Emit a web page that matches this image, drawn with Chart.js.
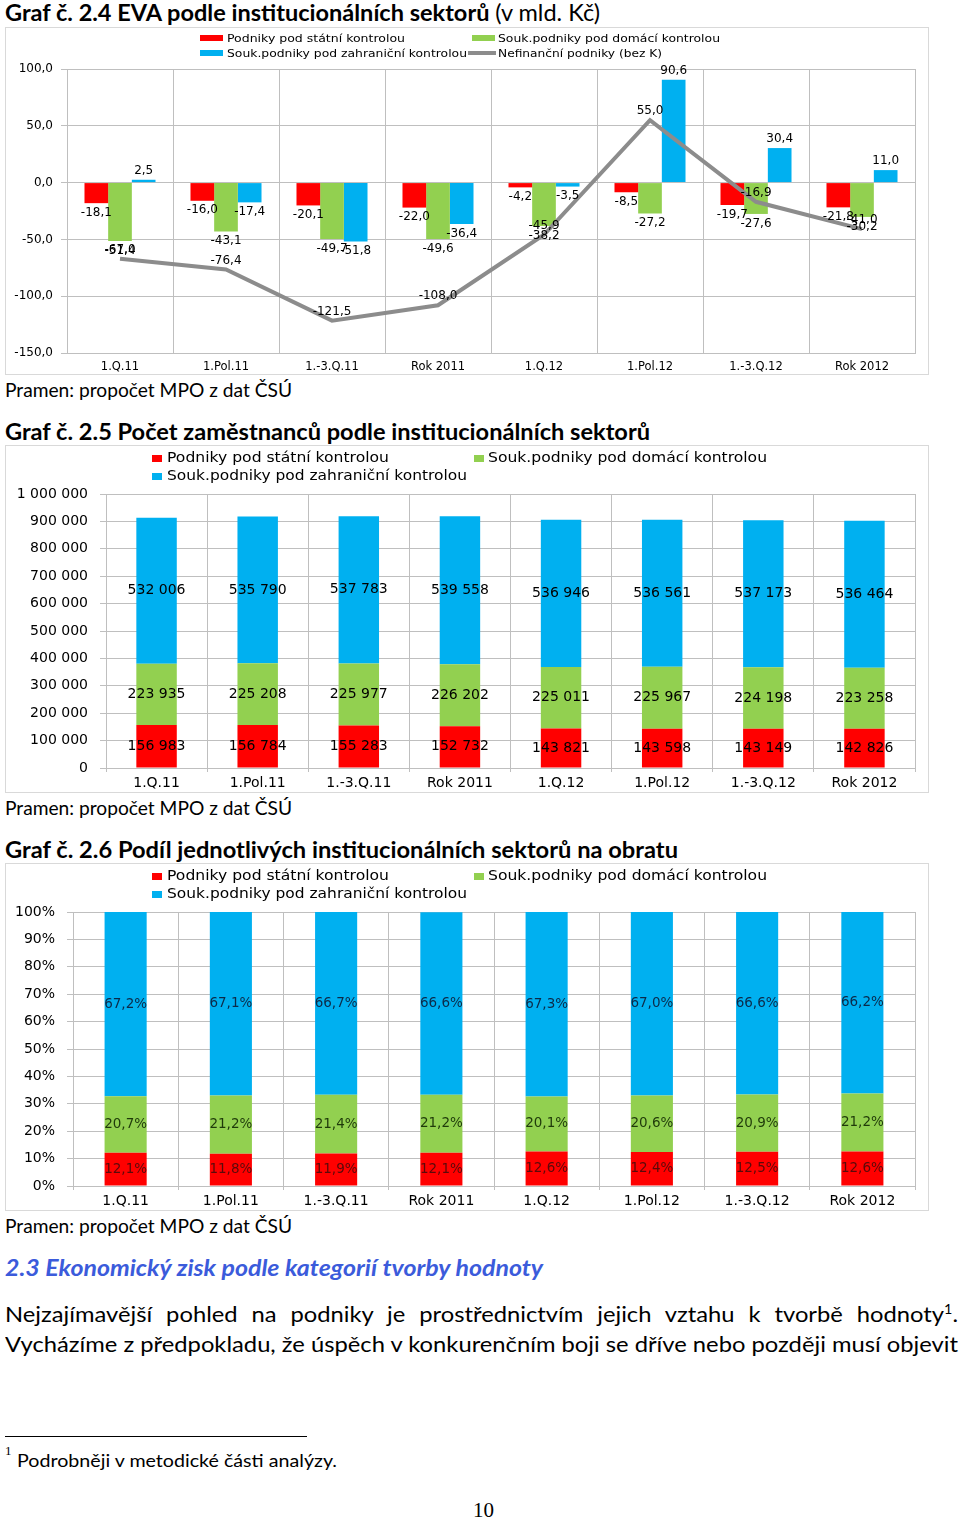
<!DOCTYPE html>
<html lang="cs">
<head>
<meta charset="utf-8">
<title>EVA, zaměstnanci a obrat podle sektorů</title>
<script src="https://cdn.jsdelivr.net/npm/chart.js@4.4.0/dist/chart.umd.min.js"></script>
<style>
  body{margin:0;background:#fff;}
  #stranka{position:relative;width:960px;height:1518px;overflow:hidden;font-family:Lato,"Open Sans",sans-serif;color:#000;background:#fff;}
  .t{position:absolute;white-space:nowrap;line-height:1;transform-origin:0 50%;}
  .box{position:absolute;left:5px;width:924px;height:348px;box-sizing:border-box;border:1px solid #d9d9d9;}
  .box canvas{position:absolute;left:0;top:0;}
  .leg{position:absolute;white-space:nowrap;line-height:1;transform-origin:0 50%;font-family:"DejaVu Sans",Verdana,sans-serif;}
  .mk{position:absolute;}
</style>
</head>
<body>
<div id="stranka">

  <div class="t" style="left:5px;top:0.5px;font-size:23px;font-weight:700" data-w="595">Graf č. 2.4 EVA podle institucionálních sektorů <span style="font-weight:400">(v mld. Kč)</span></div>
  <div class="box" style="top:27px"><canvas id="g1" width="922" height="346"></canvas></div>
  <div id="leg1"></div>
  <div class="t" style="left:5px;top:379px;font-size:20px" data-w="287">Pramen: propočet MPO z dat ČSÚ</div>

  <div class="t" style="left:5px;top:419.5px;font-size:23px;font-weight:700" data-w="645">Graf č. 2.5 Počet zaměstnanců podle institucionálních sektorů</div>
  <div class="box" style="top:445px"><canvas id="g2" width="922" height="346"></canvas></div>
  <div class="t" style="left:5px;top:797px;font-size:20px" data-w="287">Pramen: propočet MPO z dat ČSÚ</div>

  <div class="t" style="left:5px;top:837.5px;font-size:23px;font-weight:700" data-w="673">Graf č. 2.6 Podíl jednotlivých institucionálních sektorů na obratu</div>
  <div class="box" style="top:863px"><canvas id="g3" width="922" height="346"></canvas></div>
  <div class="t" style="left:5px;top:1215px;font-size:20px" data-w="287">Pramen: propočet MPO z dat ČSÚ</div>

  <div class="t" style="left:5px;top:1255.5px;font-size:23px;font-weight:700;font-style:italic;color:#3b5bdb" data-w="538">2.3 Ekonomický zisk podle kategorií tvorby hodnoty</div>

  <div id="r1" class="t" style="left:5px;top:1304px;font-size:21.5px;text-align:justify;text-align-last:justify;white-space:normal">Nejzajímavější pohled na podniky je prostřednictvím jejich vztahu k&nbsp;tvorbě hodnoty<sup style="font-size:13px;line-height:0">1</sup>.</div>
  <div id="r2" class="t" style="left:5px;top:1334px;font-size:21.5px">Vycházíme z předpokladu, že úspěch v konkurenčním boji se dříve nebo později musí objevit</div>

  <div style="position:absolute;left:5px;top:1436px;width:302px;height:1px;background:#000"></div>
  <div class="t" style="left:5px;top:1444px;font-size:13px;font-family:'Liberation Serif',serif">1</div>
  <div class="t" style="left:17px;top:1452px;font-size:17.5px" data-w="320">Podrobněji v metodické části analýzy.</div>
  <div class="t" style="left:473px;top:1500px;font-size:21px;font-family:'Liberation Serif',serif">10</div>

  <div id="leg2"></div>
  <div id="leg3"></div>
</div>

<script>
const kategorie = ["1.Q.11","1.Pol.11","1.-3.Q.11","Rok 2011","1.Q.12","1.Pol.12","1.-3.Q.12","Rok 2012"];
const nazvySerii = ["Podniky pod státní kontrolou","Souk.podniky pod domácí kontrolou","Souk.podniky pod zahraniční kontrolou","Nefinanční podniky (bez K)"];

// Graf 2.4 – EVA (mld. Kč)
const evaStatni     = [-18.1,-16.0,-20.1,-22.0,-4.2,-8.5,-19.7,-21.8];
const evaDomaci     = [-51.4,-43.1,-49.7,-49.6,-38.2,-27.2,-27.6,-30.2];
const evaZahranicni = [2.5,-17.4,-51.8,-36.4,-3.5,90.6,30.4,11.0];
const evaNefin      = [-67.0,-76.4,-121.5,-108.0,-45.9,55.0,-16.9,-41.0];

// Graf 2.5 – počet zaměstnanců
const zamStatni     = [156983,156784,155283,152732,143821,143598,143149,142826];
const zamDomaci     = [223935,225208,225977,226202,225011,225967,224198,223258];
const zamZahranicni = [532006,535790,537783,539558,536946,536561,537173,536464];

// Graf 2.6 – podíl na obratu (%)
const obrStatni     = [12.1,11.8,11.9,12.1,12.6,12.4,12.5,12.6];
const obrDomaci     = [20.7,21.2,21.4,21.2,20.1,20.6,20.9,21.2];
const obrZahranicni = [67.2,67.1,66.7,66.6,67.3,67.0,66.6,66.2];

/* ---------- barvy ---------- */
const cervena = '#ff0000', zelena = '#92d050', modra = '#00b0f0', seda = '#8c8c8c';
const mrizka = '#bfbfbf';

Chart.defaults.font.family = "'DejaVu Sans', Verdana, sans-serif";
Chart.defaults.color = '#000';

/* ---------- utils ---------- */
const carka = (v,d) => Number(v).toFixed(d).replace('.', ',');
const mezery = v => String(v).replace(/\B(?=(\d{3})+(?!\d))/g, ' ');

function popisky(format, stred, font, barvy){
  return {
    id: 'popisky',
    afterDatasetsDraw(chart){
      const ctx = chart.ctx;
      ctx.save();
      ctx.font = font;
      ctx.textAlign = 'center';
      ctx.textBaseline = 'middle';
      chart.data.datasets.forEach((ds,i)=>{
        const meta = chart.getDatasetMeta(i);
        meta.data.forEach((el,j)=>{
          const v = ds.data[j];
          let y;
          if (stred) y = (el.y + el.base)/2;
          else if (meta.type === 'line') y = el.y - 9;
          else y = v < 0 ? el.y + 9.5 : el.y - 9;
          ctx.fillStyle = barvy ? barvy[i] : '#000';
          ctx.fillText(format(v), el.x, y);
        });
      });
      ctx.restore();
    }
  };
}

function osaX(vyska, font, tick, pad, stack){
  return {
    stacked: stack,
    grid: {color: mrizka, offset: true, drawTicks: tick > 0, tickLength: tick},
    border: {color: mrizka},
    ticks: {font: {size: font}, padding: pad, maxRotation: 0, autoSkip: false},
    afterFit(s){ s.height = vyska; }
  };
}
function osaY(sirka, font, pad, min, max, krok, cb, stack){
  return {
    stacked: stack, min, max,
    grid: {color: mrizka, tickLength: 6},
    border: {color: mrizka},
    ticks: {stepSize: krok, font: {size: font}, padding: pad, callback: cb},
    afterFit(s){ s.width = sirka; }
  };
}
const zaklad = {responsive: false, animation: false, devicePixelRatio: 1,
  plugins: {legend: {display: false}, tooltip: {enabled: false}}};

/* ---------- graf 2.4 ---------- */
new Chart(document.getElementById('g1'), {
  type: 'bar',
  data: {labels: kategorie, datasets: [
    {type: 'line', label: nazvySerii[3], data: evaNefin, borderColor: seda, borderWidth: 4,
     pointRadius: 0, tension: 0, fill: false, order: 0},
    {label: nazvySerii[0], data: evaStatni, backgroundColor: cervena, order: 1},
    {label: nazvySerii[1], data: evaDomaci, backgroundColor: zelena, order: 1},
    {label: nazvySerii[2], data: evaZahranicni, backgroundColor: modra, order: 1}
  ]},
  options: {...zaklad,
    layout: {padding: {top: 41, right: 13, left: 0, bottom: 0}},
    datasets: {bar: {categoryPercentage: 0.67, barPercentage: 1}},
    scales: {
      x: osaX(21, 11.5, 0, 7, false),
      y: osaY(61, 12, 8, -150, 100, 50, v => carka(v,1), false)
    }
  },
  plugins: [popisky(v => carka(v,1), false, "12px 'DejaVu Sans'")]
});

/* ---------- graf 2.5 ---------- */
new Chart(document.getElementById('g2'), {
  type: 'bar',
  data: {labels: kategorie, datasets: [
    {label: nazvySerii[0], data: zamStatni, backgroundColor: cervena},
    {label: nazvySerii[1], data: zamDomaci, backgroundColor: zelena},
    {label: nazvySerii[2], data: zamZahranicni, backgroundColor: modra}
  ]},
  options: {...zaklad,
    layout: {padding: {top: 48, right: 13, left: 0, bottom: 0}},
    datasets: {bar: {categoryPercentage: 0.4, barPercentage: 1}},
    scales: {
      x: osaX(24, 14, 4, 3, true),
      y: osaY(100, 14, 12, 0, 1000000, 100000, v => mezery(v), true)
    }
  },
  plugins: [popisky(mezery, true, "14px 'DejaVu Sans'")]
});

/* ---------- graf 2.6 ---------- */
new Chart(document.getElementById('g3'), {
  type: 'bar',
  data: {labels: kategorie, datasets: [
    {label: nazvySerii[0], data: obrStatni, backgroundColor: cervena},
    {label: nazvySerii[1], data: obrDomaci, backgroundColor: zelena},
    {label: nazvySerii[2], data: obrZahranicni, backgroundColor: modra}
  ]},
  options: {...zaklad,
    layout: {padding: {top: 48, right: 13, left: 0, bottom: 0}},
    datasets: {bar: {categoryPercentage: 0.4, barPercentage: 1}},
    scales: {
      x: osaX(24, 14, 4, 3, true),
      y: osaY(67, 14, 12, 0, 100, 10, v => v + '%', true)
    }
  },
  plugins: [popisky(v => carka(v,1) + '%', true, "13.5px 'DejaVu Sans'", ['#5a0a0a','#1f3a0a','#0c2a48'])]
});

/* ---------- legendy (HTML) ---------- */
function legenda(id, polozky){
  const el = document.getElementById(id);
  el.innerHTML = polozky.map(p =>
    `<div class="mk" style="left:${p.mx}px;top:${p.cy - p.mh/2}px;width:${p.mw}px;height:${p.mh}px;background:${p.barva}"></div>` +
    `<div class="leg" style="left:${p.tx}px;top:${p.cy - p.fs/2}px;font-size:${p.fs}px" data-w="${p.w}">${p.text}</div>`
  ).join('');
}
legenda('leg1', [
  {text: nazvySerii[0], barva: cervena, mx: 200, mw: 23, mh: 6, tx: 227, w: 178, cy: 38, fs: 10.5},
  {text: nazvySerii[1], barva: zelena,  mx: 472, mw: 23, mh: 6, tx: 498, w: 222, cy: 38, fs: 10.5},
  {text: nazvySerii[2], barva: modra,   mx: 200, mw: 23, mh: 6, tx: 227, w: 240, cy: 53, fs: 10.5},
  {text: nazvySerii[3], barva: seda,    mx: 468, mw: 28, mh: 4, tx: 498, w: 164, cy: 53, fs: 10.5}
]);
[['leg2', 458], ['leg3', 876]].forEach(([id, y]) => legenda(id, [
  {text: nazvySerii[0], barva: cervena, mx: 152, mw: 10, mh: 7, tx: 167, w: 222, cy: y, fs: 13.5},
  {text: nazvySerii[1], barva: zelena,  mx: 474, mw: 10, mh: 7, tx: 488, w: 279, cy: y, fs: 13.5},
  {text: nazvySerii[2], barva: modra,   mx: 152, mw: 10, mh: 7, tx: 167, w: 300, cy: y + 18, fs: 13.5}
]));

/* ---------- sirky textu podle predlohy ---------- */
document.querySelectorAll('[data-w]').forEach(el => {
  const w = el.getBoundingClientRect().width;
  el.style.transform = `scaleX(${(+el.dataset.w / w).toFixed(4)})`;
});
// odstavec: meritko z 2. radku, 1. radek do bloku
const r2 = document.getElementById('r2'), r1 = document.getElementById('r1');
const s = 953 / r2.getBoundingClientRect().width;
r2.style.transform = `scaleX(${s})`;
r1.style.width = (953 / s) + 'px';
r1.style.transform = `scaleX(${s})`;
</script>
</body>
</html>
